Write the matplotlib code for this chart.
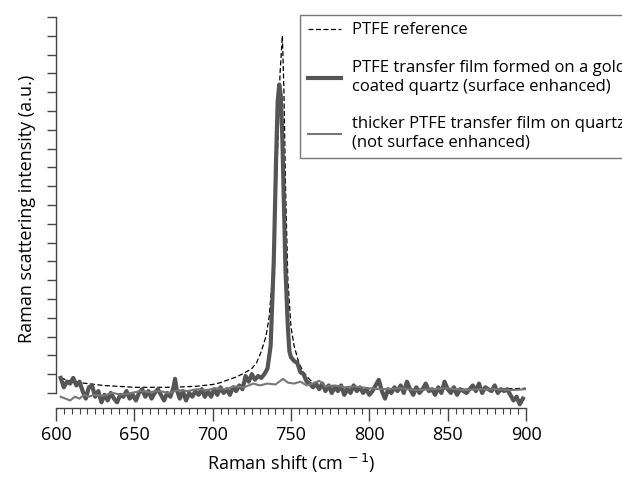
import matplotlib
matplotlib.use("Agg")
import matplotlib.pyplot as plt
from matplotlib.ticker import MultipleLocator

plt.rcParams['font.family'] = ['Open Sans', 'DejaVu Sans']

# PTFE reference (dashed)
ref_x = [603, 610, 620, 630, 640, 650, 660, 670, 680, 690, 700, 705, 710, 715,
         720, 725, 728, 731, 734, 736, 738, 740, 741.5, 743, 744.5, 745.5, 746.5,
         748, 750, 752, 755, 758, 762, 766, 770, 780, 790, 800, 820, 850, 880, 900]
ref_y = [0.8, 0.6, 0.5, 0.4, 0.35, 0.3, 0.3, 0.3, 0.32, 0.36, 0.45, 0.55, 0.7, 0.85,
         1.05, 1.3, 1.6, 2.2, 3.0, 4.0, 6.0, 9.5, 13.0, 17.0, 19.0, 16.0, 11.0,
         6.0, 3.5, 2.5, 1.6, 1.1, 0.7, 0.5, 0.4, 0.3, 0.25, 0.22, 0.2, 0.2, 0.2, 0.25]

# transfer film on gold coated quartz (thick)
gold_x = [603, 605, 607, 609, 611, 613, 615, 617, 619, 621, 623, 625, 627, 629, 631,
          633, 635, 637, 639, 641, 643, 645, 647, 649, 651, 653, 655, 657, 659, 661,
          663, 665, 667, 669, 671, 673, 675, 676, 677, 679, 681, 683, 685, 687, 689,
          691, 693, 695, 697, 699, 701, 703, 705, 707, 709, 711, 713, 715, 717, 719,
          721, 723, 725, 727, 729, 731, 733, 735, 737, 739, 740.5, 741.5, 742.5, 743.5,
          744.5, 745.5, 746.5, 748, 749, 750, 752, 754, 756, 758, 760, 762, 764, 766,
          768, 770, 772, 774, 776, 778, 780, 782, 784, 786, 788, 790, 792, 794, 796,
          798, 800, 802, 804, 806, 808, 810, 812, 814, 816, 818, 820, 822, 824, 826,
          828, 830, 832, 834, 836, 838, 840, 842, 844, 846, 848, 850, 852, 854, 856,
          858, 860, 862, 864, 866, 868, 870, 872, 874, 876, 878, 880, 882, 884, 886,
          888, 890, 892, 894, 896, 898]
gold_y = [0.8, 0.3, 0.6, 0.5, 0.8, 0.4, 0.6, 0.1, -0.3, 0.3, 0.4, -0.2, 0.1, -0.5, -0.1,
          -0.4, 0.0, -0.3, -0.5, -0.1, -0.2, 0.1, -0.3, -0.1, -0.4, 0.0, 0.2, -0.2, 0.1, -0.3,
          0.0, 0.2, -0.1, -0.4, 0.0, -0.2, 0.3, 0.75, 0.2, -0.3, 0.1, -0.4, 0.0, -0.2, 0.1,
          -0.1, 0.2, -0.2, 0.1, -0.2, 0.2, -0.1, 0.3, 0.0, 0.2, -0.1, 0.3, 0.1, 0.4, 0.2,
          0.9, 0.6, 1.0, 0.7, 0.9, 0.8, 1.0, 1.3, 2.5, 7.0, 12.5, 15.5, 16.4, 15.8,
          13.5, 10.0, 6.5, 3.5, 2.2, 1.9, 1.7, 1.6, 1.1, 1.0, 0.6, 0.5, 0.3, 0.5,
          0.2, 0.5, 0.1, 0.4, 0.0, 0.3, 0.1, 0.4, -0.1, 0.2, 0.0, 0.4, 0.1, 0.3, 0.0,
          0.2, -0.1, 0.1, 0.4, 0.7, 0.1, -0.3, 0.2, 0.0, 0.3, 0.1, 0.4, 0.0, 0.6, 0.2,
          -0.1, 0.3, 0.0, 0.2, 0.5, 0.1, 0.2, -0.1, 0.3, 0.0, 0.6, 0.2, 0.0, 0.3, -0.1,
          0.2, 0.1, 0.0, 0.2, 0.4, 0.1, 0.5, 0.0, 0.3, 0.2, 0.1, 0.4, 0.0, 0.2, 0.1,
          0.2, -0.1, -0.4, -0.2, -0.6, -0.3]

# thicker film on quartz (thin)
quartz_x = [603, 606, 609, 612, 615, 618, 621, 624, 630, 636, 642, 648, 654, 660, 666,
            672, 678, 684, 690, 696, 702, 708, 714, 720, 726, 730, 735, 740, 745, 748,
            752, 756, 760, 764, 768, 772, 778, 784, 790, 800, 810, 820, 830, 840, 850,
            860, 870, 880, 890, 900]
quartz_y = [-0.2, -0.3, -0.4, -0.2, -0.3, -0.1, -0.2, -0.1, -0.15, 0.0, -0.1, 0.0, 0.1, 0.05, 0.1,
            0.0, 0.15, 0.1, 0.2, 0.15, 0.25, 0.2, 0.35, 0.3, 0.5, 0.4, 0.5, 0.45, 0.75, 0.55,
            0.5, 0.6, 0.4, 0.5, 0.65, 0.35, 0.4, 0.3, 0.35, 0.25, 0.2, 0.25, 0.15, 0.2, 0.25,
            0.15, 0.2, 0.2, 0.15, 0.2]

labels = ['PTFE reference',
          'PTFE transfer film formed on a gold\ncoated quartz (surface enhanced)',
          'thicker PTFE transfer film on quartz\n(not surface enhanced)']

axis_col = '#444444'

fig = plt.figure(figsize=(6.22, 4.78), dpi=100)
ax = fig.add_axes([56/622, 70/478, 470/622, 398/478])

ax.plot(ref_x, ref_y, color='black', lw=0.9, dashes=(4, 2), label=labels[0])
ax.plot(gold_x, gold_y, color='#555555', lw=3.0, label=labels[1])
ax.plot(quartz_x, quartz_y, color='#777777', lw=1.5, label=labels[2])

ax.set_xlim(600, 900)
ax.set_ylim(-0.8, 20.37)

for s in ['top', 'right']:
    ax.spines[s].set_visible(False)
ax.spines['left'].set_bounds(0, 20)
ax.spines['bottom'].set_bounds(600, 900)
for s in ['left', 'bottom']:
    ax.spines[s].set_color(axis_col)
    ax.spines[s].set_linewidth(1.0)

ax.xaxis.set_major_locator(MultipleLocator(50))
ax.xaxis.set_minor_locator(MultipleLocator(5))
ax.yaxis.set_major_locator(MultipleLocator(1))
ax.tick_params(axis='x', which='major', direction='out', length=9, width=1,
               color=axis_col, labelsize=13, pad=4)
ax.tick_params(axis='x', which='minor', direction='out', length=4, width=0.8,
               color=axis_col)
ax.tick_params(axis='y', which='major', direction='out', length=6.5, width=1,
               color=axis_col, labelleft=False)

ax.set_xlabel('Raman shift (cm$^{\\,-1}$)', fontsize=13, labelpad=6)
ax.set_ylabel('Raman scattering intensity (a.u.)', fontsize=13, labelpad=8)

# legend runs off the right edge, same as in the original figure
leg = ax.legend(loc='upper left', bbox_to_anchor=(300/622, 1 - 15/478),
                bbox_transform=fig.transFigure, fontsize=12, frameon=True,
                fancybox=False, edgecolor='#555555', handlelength=2.0,
                handletextpad=0.65, borderpad=0.45, labelspacing=1.3,
                borderaxespad=0)
leg.get_frame().set_linewidth(1.0)

fig.savefig('out.png', dpi=100)
